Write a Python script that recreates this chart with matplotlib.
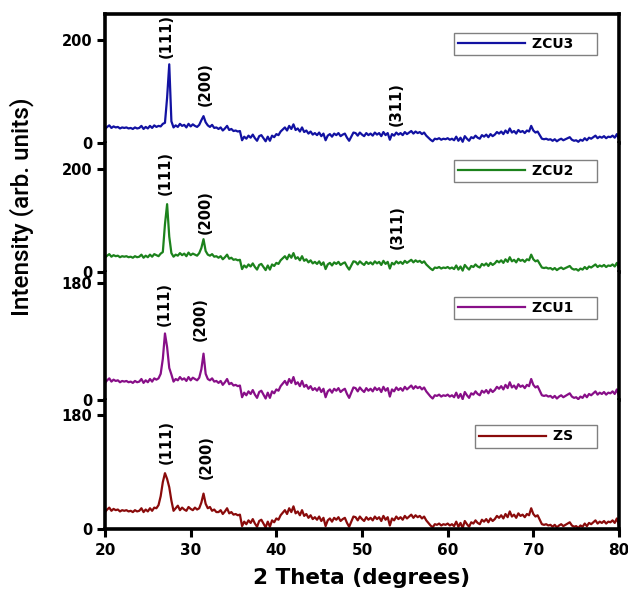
import numpy as np
import matplotlib
matplotlib.use('Agg')
import matplotlib.pyplot as plt

# ---------------- data ----------------
two_theta = np.arange(20, 80.001, 0.25)          # 241 points, 20..80 deg

# common background, 20.00 .. 25.75 (4 values per degree)
bg_left = [27, 31, 34, 29,
           32, 30, 31, 28,
           30, 29, 30, 28,
           29, 27, 30, 28,
           29, 33, 27, 31,
           28, 33, 29, 34]

# peak window 26.00 .. 33.00 for each sample
win_zs = [33, 38, 52, 74,
          88, 79, 66, 45,
          29, 33, 37, 30,
          34, 31, 29, 35,
          32, 30, 34, 31,
          33, 42, 56, 40,
          33, 35, 29, 31,
          27]
win_zcu1 = [32, 34, 41, 64,
            103, 82, 50, 40,
            29, 33, 31, 36,
            32, 34, 30, 36,
            31, 35, 33, 31,
            35, 48, 72, 41,
            33, 31, 34, 29,
            30]
win_zcu2 = [32, 30, 35, 38,
            92, 131, 68, 36,
            29, 33, 31, 36,
            32, 35, 30, 37,
            32, 35, 33, 31,
            36, 46, 63, 40,
            33, 31, 34, 29,
            30]
win_zcu3 = [31, 33, 32, 37,
            39, 88, 153, 42,
            30, 34, 31, 37,
            33, 35, 30, 37,
            32, 36, 33, 31,
            35, 44, 52, 40,
            34, 31, 35, 29,
            30]

# common background, 33.25 .. 80.00
bg_right = [27, 30, 24,
            28, 33, 25, 27,   # 34
            23, 24, 22, 23,   # 35
            5, 12, 8, 14,     # 36
            10, 16, 9, 4,     # 37
            13, 15, 9, 3,     # 38
            12, 4, 14, 11,    # 39
            17, 15, 22, 26,   # 40
            30, 24, 33, 27,   # 41
            36, 25, 28, 22,   # 42
            30, 21, 24, 18,   # 43
            22, 16, 19, 15,   # 44
            20, 13, 18, 5,    # 45
            14, 17, 12, 18,   # 46
            15, 19, 13, 16,   # 47
            18, 10, 4, 12,    # 48
            20, 19, 14, 20,   # 49
            16, 13, 19, 15,   # 50
            18, 14, 20, 16,   # 51
            19, 13, 21, 15,   # 52
            19, 6, 17, 14,    # 53
            20, 16, 19, 15,   # 54
            21, 17, 20, 23,   # 55
            18, 22, 19, 21,   # 56
            17, 20, 14, 10,   # 57
            6, 3, 8, 7,       # 58
            9, 6, 8, 7,       # 59
            9, 6, 8, 5,       # 60
            12, 4, 10, 2,     # 61
            13, 8, 4, 11,     # 62
            9, 14, 10, 8,     # 63
            15, 12, 16, 11,   # 64
            17, 13, 16, 21,   # 65
            18, 22, 17, 24,   # 66
            19, 28, 20, 23,   # 67
            18, 25, 21, 23,   # 68
            19, 24, 22, 33,   # 69
            24, 20, 22, 15,   # 70
            8, 7, 8, 6,       # 71
            7, 4, 7, 3,       # 72
            6, 8, 5, 7,       # 73
            9, 11, 6, 4,      # 74
            5, 2, 6, 4,       # 75
            9, 5, 10, 8,      # 76
            11, 14, 9, 12,    # 77
            10, 13, 9, 12,    # 78
            11, 14, 10, 17,   # 79
            6]                # 80

samples = ['ZCU3', 'ZCU2', 'ZCU1', 'ZS']
windows = [win_zcu3, win_zcu2, win_zcu1, win_zs]
colors = ['#1212a2', '#1c821c', '#880f88', '#8a0b0b']
y_limits = [(0, 251), (0, 250), (0, 198), (0, 202)]
y_ticks = [[0, 200], [0, 200], [0, 180], [0, 180]]
x_ticks = [20, 30, 40, 50, 60, 70, 80]

# (label, 2theta, intensity at the bottom of the text)
annotations = [
    [('(111)', 27.2, 165), ('(200)', 31.7, 71), ('(311)', 54.0, 32)],
    [('(111)', 27.0, 149), ('(200)', 31.7, 73), ('(311)', 54.1, 44)],
    [('(111)', 26.9, 115), ('(200)', 31.1, 92)],
    [('(111)', 27.1, 102), ('(200)', 31.8, 79)],
]
legend_tops = [0.855, 0.866, 0.804, 0.808]

# ---------------- figure ----------------
fig = plt.figure(figsize=(6.28, 5.89), dpi=100)
left = 105 / 628
right = 619 / 628
bottom = (589 - 529.3) / 589
top = (589 - 14) / 589
h = (top - bottom) / 4

bold = dict(family='DejaVu Sans', weight='bold')
axes = []
for i, name in enumerate(samples):
    ax = fig.add_axes([left, top - (i + 1) * h, right - left, h])
    axes.append(ax)
    y = np.concatenate([bg_left, windows[i], bg_right])
    ax.plot(two_theta, y, color=colors[i], lw=1.6, label=name + '    ')
    ax.set_xlim(20, 80)
    ax.set_ylim(*y_limits[i])
    ax.set_yticks(y_ticks[i])
    ax.set_yticklabels([str(v) for v in y_ticks[i]], fontdict=dict(size=10.5, **bold))
    ax.tick_params(axis='y', direction='out', length=6, width=2.2, pad=3, right=False)
    for s in ['left', 'right', 'top', 'bottom']:
        ax.spines[s].set_linewidth(2.6)
    ax.spines['top'].set_visible(i == 0)
    ax.spines['bottom'].set_visible(i == 3)
    if i < 3:
        ax.tick_params(axis='x', bottom=False, labelbottom=False, top=False)
    else:
        ax.set_xticks(x_ticks)
        ax.set_xticklabels([str(v) for v in x_ticks], fontdict=dict(size=11, **bold))
        ax.tick_params(axis='x', direction='out', length=6, width=2.2, pad=4, top=False)
    for label, xx, yy in annotations[i]:
        ax.text(xx, yy, label, rotation=90, ha='center', va='bottom',
                fontsize=10.5, **bold)
    leg = ax.legend(loc='upper right', bbox_to_anchor=(0.957, legend_tops[i]),
                    fancybox=False, edgecolor='#808080', framealpha=1,
                    prop=dict(size=10, **bold), handlelength=4.8,
                    borderpad=0.3, handletextpad=0.5, borderaxespad=0)
    leg.get_frame().set_linewidth(1.0)

fig.text(22 / 628, 1 - 207 / 589, 'Intensity (arb. units)', rotation=90,
         ha='center', va='center', fontsize=17.5, weight='medium',
         family=['Roboto', 'DejaVu Sans'])
fig.text((105 + 619) / 2 / 628, 1 - 578 / 589, '2 Theta (degrees)',
         ha='center', va='center', fontsize=15.5, **bold)

fig.savefig('out.png', dpi=100)
